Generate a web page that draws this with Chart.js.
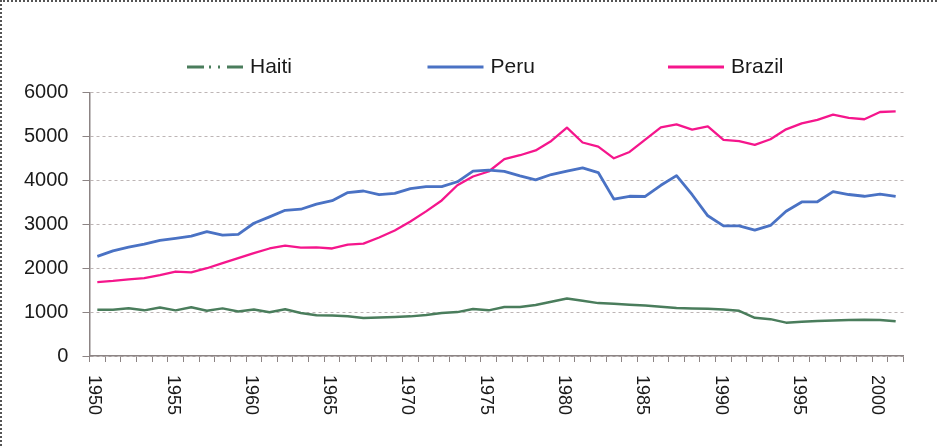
<!DOCTYPE html>
<html>
<head>
<meta charset="utf-8">
<script src="https://cdn.jsdelivr.net/npm/chart.js@4.4.1/dist/chart.umd.min.js"></script>
<style>
  html, body { margin: 0; padding: 0; background: #fff; }
  #wrap { position: relative; width: 944px; height: 446px; box-sizing: border-box;
          border-top: 2px dotted #555; border-left: 2px dotted #555; }
  #frameFix { position: absolute; top: -2px; right: 0; width: 6px; height: 3px; background: #fff; }
  canvas { position: absolute; left: -2px; top: -2px; }
</style>
</head>
<body>
<div id="wrap"><div id="frameFix"></div><canvas id="chart" width="944" height="446"></canvas></div>
<script>
// years on the category axis
var years = ['1950','1951','1952','1953','1954','1955','1956','1957','1958','1959',
  '1960','1961','1962','1963','1964','1965','1966','1967','1968','1969',
  '1970','1971','1972','1973','1974','1975','1976','1977','1978','1979',
  '1980','1981','1982','1983','1984','1985','1986','1987','1988','1989',
  '1990','1991','1992','1993','1994','1995','1996','1997','1998','1999',
  '2000','2001'];

// labels printed under the axis
var yearTicks = ['1950','1955','1960','1965','1970','1975','1980','1985','1990','1995','2000'];

var haiti = [1055,1055,1090,1040,1105,1040,1110,1030,1085,1015,
  1060,995,1065,980,930,925,905,865,880,888,
  903,935,980,1000,1070,1040,1115,1115,1160,1235,
  1310,1260,1205,1190,1170,1150,1125,1095,1085,1075,
  1060,1030,870,840,760,780,800,810,820,825,
  820,790];

var peru = [2270,2395,2480,2550,2635,2680,2730,2835,2755,2770,
  3025,3170,3320,3345,3460,3540,3725,3760,3675,3705,
  3815,3860,3860,3970,4215,4235,4205,4105,4015,4135,
  4215,4285,4180,3575,3640,3635,3890,4110,3675,3195,
  2965,2965,2870,2975,3300,3510,3515,3745,3680,3640,
  3690,3635];

var brazil = [1685,1710,1745,1775,1845,1925,1905,2000,2115,2230,
  2345,2450,2515,2470,2475,2450,2540,2560,2700,2860,
  3065,3295,3545,3890,4090,4205,4485,4575,4685,4900,
  5205,4865,4770,4505,4650,4930,5210,5280,5160,5230,
  4925,4895,4810,4940,5165,5300,5380,5500,5425,5395,
  5560,5575];

var yTicks = [0, 1000, 2000, 3000, 4000, 5000, 6000];

var AXIS = '#8c8484';
var GRID = '#bdb5b5';
var TEXT = '#1a1a1a';
var FONT = '"Liberation Sans", Arial, sans-serif';

// legend drawn on the canvas: three wide entries spaced evenly
var legendPlugin = {
  id: 'wideLegend',
  afterDraw: function (chart) {
    var ctx = chart.ctx;
    var x0 = 187, step = 240.5, y = 67, len = 56;
    ctx.save();
    ctx.font = '21px ' + FONT;
    ctx.textBaseline = 'middle';
    ctx.textAlign = 'left';
    chart.data.datasets.forEach(function (ds, i) {
      var x = x0 + i * step;
      ctx.strokeStyle = ds.borderColor;
      ctx.lineWidth = 3;
      ctx.setLineDash(ds.legendDash || []);
      ctx.beginPath();
      ctx.moveTo(x, y);
      ctx.lineTo(x + len, y);
      ctx.stroke();
      ctx.setLineDash([]);
      ctx.fillStyle = TEXT;
      ctx.fillText(ds.label, x + len + 7, y);
    });
    ctx.restore();
  }
};

// year labels rotated clockwise, reading top to bottom
var yearLabelPlugin = {
  id: 'yearLabels',
  afterDraw: function (chart) {
    var ctx = chart.ctx;
    var xs = chart.scales.x;
    ctx.save();
    ctx.font = '18px ' + FONT;
    ctx.fillStyle = TEXT;
    ctx.textBaseline = 'middle';
    ctx.textAlign = 'left';
    yearTicks.forEach(function (lbl) {
      var idx = years.indexOf(lbl);
      var px = xs.getPixelForValue(idx);
      ctx.save();
      ctx.translate(px - 3, chart.chartArea.bottom + 19);
      ctx.rotate(Math.PI / 2);
      ctx.fillText(lbl, 0, 0);
      ctx.restore();
    });
    ctx.restore();
  }
};

new Chart(document.getElementById('chart'), {
  type: 'line',
  data: {
    labels: years,
    datasets: [
      { label: 'Haiti', data: haiti, borderColor: '#4a7d5c', borderWidth: 2.5,
        legendDash: [17, 5, 2, 7, 2, 7] },
      { label: 'Peru', data: peru, borderColor: '#4a72c4', borderWidth: 2.8 },
      { label: 'Brazil', data: brazil, borderColor: '#f5168c', borderWidth: 2.3 }
    ]
  },
  options: {
    responsive: false,
    animation: false,
    layout: { padding: { left: 10, right: 40.5, top: 92.7, bottom: 84 } },
    elements: {
      point: { radius: 0, hoverRadius: 0 },
      line: { tension: 0, fill: false, borderJoinStyle: 'round' }
    },
    plugins: {
      legend: { display: false },
      tooltip: { enabled: false }
    },
    scales: {
      x: {
        offset: true,
        grid: { display: true, offset: true, drawOnChartArea: false, drawTicks: true,
                tickLength: 6, color: AXIS, tickColor: AXIS },
        border: { display: true, color: AXIS, width: 1.5 },
        ticks: { display: false, autoSkip: false }
      },
      y: {
        min: 0,
        max: 6000,
        afterBuildTicks: function (scale) {
          scale.ticks = yTicks.map(function (v) { return { value: v }; });
        },
        grid: { color: GRID, tickColor: AXIS, tickLength: 7, lineWidth: 1 },
        border: { display: true, color: AXIS, width: 1.5, dash: [3, 3] },
        ticks: {
          padding: 14, color: TEXT, font: { family: FONT, size: 20 },
          callback: function (v) { return String(v); }
        }
      }
    }
  },
  plugins: [legendPlugin, yearLabelPlugin]
});
</script>
</body>
</html>
